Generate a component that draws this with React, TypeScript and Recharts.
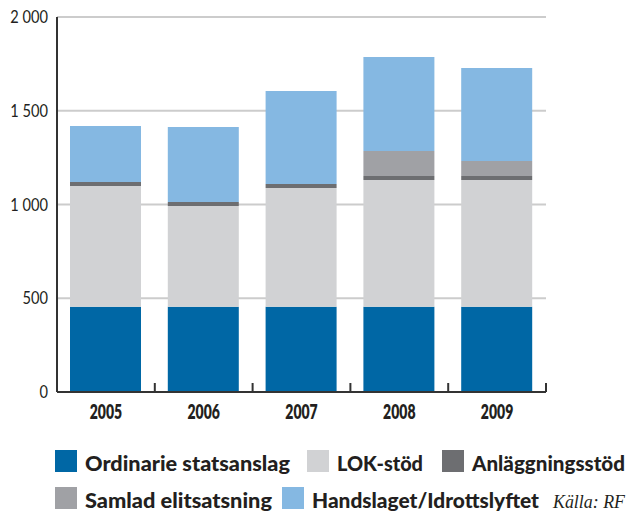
import { BarChart, Bar, XAxis, YAxis, CartesianGrid, Legend, ReferenceLine } from "recharts";

if (typeof document !== "undefined") document.body.style.margin = "0";

const years = ["2005", "2006", "2007", "2008", "2009"];
const ordinarie = [455, 455, 455, 455, 455];
const lok = [644, 537, 633, 676, 676];
const anlaggning = [21, 21, 21, 21, 21];
const samlad = [0, 0, 0, 133, 80];
const handslaget = [299, 400, 496, 502, 496];

const seriesNames = [
  "Ordinarie statsanslag",
  "LOK-stöd",
  "Anläggningsstöd",
  "Samlad elitsatsning",
  "Handslaget/Idrottslyftet",
];
const seriesKeys = ["ordinarie", "lok", "anlaggning", "samlad", "handslaget"];
const seriesColors = ["#0067a5", "#d1d2d4", "#6d6e71", "#a0a1a5", "#85b8e2"];
const yTicks = [0, 500, 1000, 1500, 2000];
const source = "Källa: RF";

const data = years.map((year, i) => ({
  year,
  ordinarie: ordinarie[i],
  lok: lok[i],
  anlaggning: anlaggning[i],
  samlad: samlad[i],
  handslaget: handslaget[i],
}));

const W = 630;
const H = 514;
const margin = { top: 17, right: 84, left: 0, bottom: 92 };
const yAxisWidth = 57;
const markLength = 48; // in value units, about 9px

// legend layout: square x, row, text width (the original uses a narrow Gill Sans)
const legendLayout: Record<string, { x: number; row: number; w: number }> = {
  "Ordinarie statsanslag": { x: 55, row: 0, w: 205 },
  "LOK-stöd": { x: 307, row: 0, w: 86 },
  "Anläggningsstöd": { x: 442, row: 0, w: 153 },
  "Samlad elitsatsning": { x: 55, row: 1, w: 187 },
  "Handslaget/Idrottslyftet": { x: 282, row: 1, w: 227 },
};

const font = "Lato, 'DejaVu Sans', sans-serif";
const ink = "#231f20";
const axisColor = "#333";

const fmt = (v: number) => String(v).replace(/\B(?=(\d{3})+(?!\d))/g, " ");

const YTick = ({ x, y, payload }: any) => (
  <text
    transform={`translate(${x},${y + 6}) scale(0.86,1)`}
    textAnchor="end"
    fill={ink}
    fontSize={17}
    fontFamily={font}
  >
    {fmt(payload.value)}
  </text>
);

const XTick = ({ x, y, payload }: any) => (
  <text
    transform={`translate(${x},${y + 27}) scale(0.7,1)`}
    textAnchor="middle"
    fill={ink}
    fontSize={20}
    fontWeight={800}
    fontFamily={font}
  >
    {payload.value}
  </text>
);

const renderLegend = (props: any) => {
  const payload = props.payload ?? [];
  return (
    <svg width={W} height={74} style={{ display: "block", overflow: "visible" }}>
      {payload.map((p: any) => {
        const l = legendLayout[p.value];
        if (!l) return null;
        const top = 10 + l.row * 37;
        return (
          <g key={p.value}>
            <rect x={l.x} y={top} width={22} height={22} fill={p.color} />
            <text
              x={l.x + 30}
              y={top + 21}
              textLength={l.w}
              lengthAdjust="spacingAndGlyphs"
              fontSize={21}
              fontWeight={900}
              fontFamily={font}
              fill={ink}
            >
              {p.value}
            </text>
          </g>
        );
      })}
      <text
        x={553}
        y={68}
        textLength={72}
        lengthAdjust="spacingAndGlyphs"
        fontSize={18}
        fontStyle="italic"
        fontFamily="'Liberation Serif', 'DejaVu Serif', serif"
        fill={ink}
      >
        {source}
      </text>
    </svg>
  );
};

export default function App() {
  return (
    <BarChart width={W} height={H} data={data} margin={margin}>
      <CartesianGrid vertical={false} stroke="#cccccc" strokeWidth={2} />
      <XAxis
        dataKey="year"
        height={30}
        tickSize={0}
        tickMargin={0}
        tickLine={false}
        axisLine={{ stroke: axisColor, strokeWidth: 2 }}
        tick={<XTick />}
      />
      <YAxis
        width={yAxisWidth}
        domain={[0, 2000]}
        ticks={yTicks}
        interval={0}
        tickSize={0}
        tickMargin={9}
        tickLine={false}
        axisLine={{ stroke: axisColor, strokeWidth: 2 }}
        tick={<YTick />}
      />
      {seriesKeys.map((k, i) => (
        <Bar
          key={k}
          dataKey={k}
          name={seriesNames[i]}
          stackId="a"
          fill={seriesColors[i]}
          barSize={71}
          isAnimationActive={false}
        />
      ))}
      {years.map((yr) => (
        <ReferenceLine
          key={`mark-${yr}`}
          segment={[
            { x: yr, y: 0 },
            { x: yr, y: markLength },
          ]}
          position="end"
          stroke={axisColor}
          strokeWidth={2}
          ifOverflow="visible"
        />
      ))}
      <Legend
        content={renderLegend}
        wrapperStyle={{ position: "absolute", left: 0, top: 440, width: W, height: 0 }}
      />
    </BarChart>
  );
}
